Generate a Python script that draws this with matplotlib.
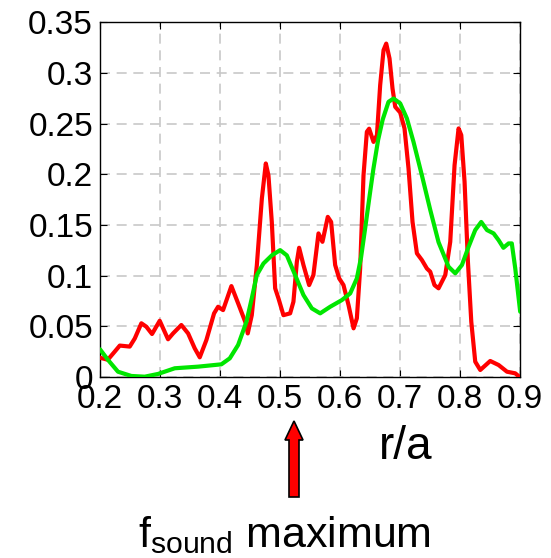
import matplotlib
matplotlib.use("Agg")
import matplotlib.pyplot as plt
import matplotlib.patches as mpatches

plt.rcParams['font.family'] = ['Liberation Sans', 'DejaVu Sans']
plt.rcParams['mathtext.fontset'] = 'custom'
plt.rcParams['mathtext.rm'] = 'Liberation Sans'

# red curve (r/a, value)
red_x = [0.200, 0.213, 0.2245, 0.233, 0.2496, 0.258, 0.269, 0.2773, 0.2868, 0.2996,
         0.3135, 0.3219, 0.3357, 0.347, 0.358, 0.3664, 0.3775, 0.3903, 0.397, 0.4053,
         0.4192, 0.4304, 0.4432, 0.4465, 0.4532, 0.4616, 0.470, 0.4766, 0.481, 0.4866,
         0.4922, 0.4977, 0.506, 0.5172, 0.5227, 0.5284, 0.5322, 0.5394, 0.5489, 0.556,
         0.5645, 0.5711, 0.580, 0.5856, 0.5923, 0.599, 0.6062, 0.6146, 0.623, 0.6285,
         0.634, 0.6396, 0.6452, 0.649, 0.6563, 0.662, 0.6674, 0.673, 0.6775, 0.683,
         0.688, 0.6925, 0.7008, 0.708, 0.7147, 0.7214, 0.7287, 0.737, 0.7454, 0.7509,
         0.758, 0.7648, 0.776, 0.7843, 0.7915, 0.7982, 0.8027, 0.8082, 0.8138, 0.8194,
         0.826, 0.8344, 0.851, 0.865, 0.879, 0.8928, 0.900]
red_y = [0.019, 0.017, 0.025, 0.031, 0.030, 0.038, 0.053, 0.0496, 0.0424, 0.0555,
         0.0372, 0.043, 0.0513, 0.043, 0.0283, 0.0194, 0.0365, 0.0628, 0.0693, 0.066,
         0.0897, 0.0727, 0.053, 0.043, 0.061, 0.110, 0.176, 0.2107, 0.199, 0.153,
         0.0875, 0.0776, 0.061, 0.0628, 0.0743, 0.1137, 0.1275, 0.1105, 0.0907, 0.1006,
         0.1417, 0.1334, 0.158, 0.153, 0.1105, 0.0973, 0.0907, 0.071, 0.048, 0.0579,
         0.107, 0.199, 0.242, 0.245, 0.232, 0.2387, 0.288, 0.3225, 0.329, 0.3143,
         0.2847, 0.2666, 0.261, 0.2453, 0.2058, 0.153, 0.122, 0.1154, 0.107, 0.1039,
         0.0907, 0.0875, 0.1006, 0.1334, 0.209, 0.2453, 0.2387, 0.1926, 0.1137, 0.0545,
         0.0151, 0.0069, 0.0158, 0.0118, 0.0052, 0.0036, 0.000]

# green curve (r/a, value)
green_x = [0.200, 0.2134, 0.230, 0.2523, 0.2746, 0.2968, 0.3247, 0.3636, 0.4025, 0.4165,
           0.4304, 0.4443, 0.4532, 0.4616, 0.4727, 0.4866, 0.5005, 0.5117, 0.5255, 0.5394,
           0.5534, 0.5673, 0.584, 0.6035, 0.6174, 0.6285, 0.6355, 0.6424, 0.6496, 0.656,
           0.664, 0.6716, 0.6813, 0.6897, 0.7008, 0.712, 0.723, 0.737, 0.7509, 0.7648,
           0.7815, 0.7927, 0.8038, 0.8149, 0.826, 0.836, 0.8456, 0.8566, 0.865, 0.873,
           0.8816, 0.887, 0.8928, 0.901]
green_y = [0.0273, 0.0168, 0.0052, 0.001, 0.0003, 0.003, 0.0086, 0.0102, 0.0125, 0.0184,
           0.0316, 0.0545, 0.0776, 0.1006, 0.112, 0.120, 0.1252, 0.120, 0.1006, 0.0809,
           0.0677, 0.0628, 0.0693, 0.0759, 0.0825, 0.0973, 0.118, 0.147, 0.178, 0.205,
           0.234, 0.254, 0.2715, 0.2748, 0.270, 0.2551, 0.232, 0.199, 0.165, 0.133,
           0.1088, 0.1023, 0.1105, 0.1285, 0.145, 0.153, 0.145, 0.1417, 0.135, 0.1275,
           0.1318, 0.1318, 0.107, 0.0644]

xticks = [0.2, 0.3, 0.4, 0.5, 0.6, 0.7, 0.8, 0.9]
xticklabels = ['0.2', '0.3', '0.4', '0.5', '0.6', '0.7', '0.8', '0.9']
yticks = [0, 0.05, 0.1, 0.15, 0.2, 0.25, 0.3, 0.35]
yticklabels = ['0', '0.05', '0.1', '0.15', '0.2', '0.25', '0.3', '0.35']

fig = plt.figure(figsize=(5.51, 5.58), dpi=100)
ax = fig.add_axes([0.1815, 0.3244, 0.7615, 0.6356])

ax.plot(red_x, red_y, color='#ff0000', lw=3.0, solid_joinstyle='round',
        solid_capstyle='round', zorder=3)
ax.plot(green_x, green_y, color='#00e600', lw=3.0, solid_joinstyle='round',
        solid_capstyle='round', zorder=4)

ax.set_xlim(0.2, 0.9)
ax.set_ylim(0, 0.35)
ax.set_xticks(xticks)
ax.set_xticklabels(xticklabels)
ax.set_yticks(yticks)
ax.set_yticklabels(yticklabels)
ax.tick_params(direction='in', length=5, width=0.8, top=True, right=True,
               labelsize=24, pad=5)
ax.grid(True, color='#c8c8c8', linestyle=(0, (6, 4)), linewidth=1.2)
for s in ax.spines.values():
    s.set_linewidth(1.0)

fig.text(406 / 551, 1 - 447 / 558, 'r/a', fontsize=33, ha='center', va='center')

arrow = mpatches.FancyArrow(294 / 551, 1 - 497 / 558, 0, (497 - 440) / 558,
                            width=10 / 551, head_width=18 / 551,
                            head_length=19 / 558, length_includes_head=False,
                            facecolor='#ff0000', edgecolor='black', linewidth=1.2,
                            transform=fig.transFigure)
fig.patches.append(arrow)

fig.text(284 / 551, 1 - 547 / 558, r'$\mathregular{f_{sound}}$ maximum',
         fontsize=31, ha='center', va='baseline')

fig.savefig('out.png', dpi=100)
